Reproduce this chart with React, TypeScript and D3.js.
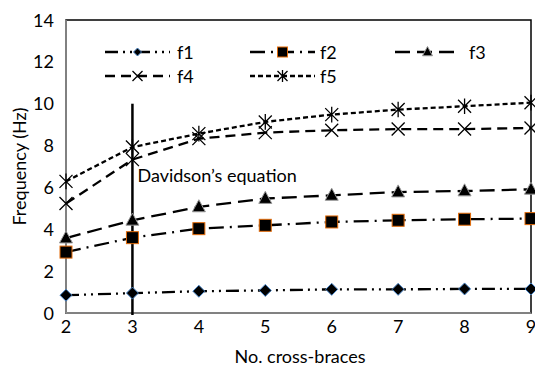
import React from "react";
import * as d3 from "d3";

const braces = [2, 3, 4, 5, 6, 7, 8, 9];
const f1 = [0.85, 0.95, 1.04, 1.08, 1.13, 1.13, 1.15, 1.15];
const f2 = [2.91, 3.6, 4.03, 4.19, 4.35, 4.43, 4.48, 4.51];
const f3 = [3.58, 4.43, 5.07, 5.47, 5.62, 5.78, 5.83, 5.91];
const f4 = [5.23, 7.33, 8.33, 8.62, 8.73, 8.79, 8.79, 8.84];
const f5 = [6.29, 7.93, 8.57, 9.13, 9.48, 9.72, 9.88, 10.05];
const yTicks = [0, 2, 4, 6, 8, 10, 12, 14];
const seriesNames = ["f1", "f2", "f3", "f4", "f5"];
const davidsonX = 3;
const davidsonTop = 10;
const davidsonLabel = "Davidson\u2019s equation";

const W = 535;
const H = 369;
const M = { left: 66, right: 531, top: 20, bottom: 313 };
const FONT = "Lato, 'Open Sans', sans-serif";
const FS = 18;

const styles = [
  { data: f1, dash: "13,5,2,5,2,5", marker: "diamond" },
  { data: f2, dash: "15,6,2,6", marker: "square" },
  { data: f3, dash: "15,7", marker: "triangle" },
  { data: f4, dash: "10,6", marker: "x" },
  { data: f5, dash: "5,3", marker: "asterisk" },
];

function Marker({ type, x, y, s }: { type: string; x: number; y: number; s: number }) {
  if (type === "diamond") {
    return (
      <path
        d={`M${x},${y - s}L${x + s},${y}L${x},${y + s}L${x - s},${y}Z`}
        fill="#000"
        stroke="#4a86c8"
        strokeWidth={1}
      />
    );
  }
  if (type === "square") {
    return (
      <rect x={x - s} y={y - s} width={2 * s} height={2 * s} fill="#000" stroke="#e46c0a" strokeWidth={1} />
    );
  }
  if (type === "triangle") {
    return (
      <path
        d={`M${x},${y - s * 1.1}L${x + s},${y + s * 0.75}L${x - s},${y + s * 0.75}Z`}
        fill="#000"
        stroke="#999"
        strokeWidth={1}
      />
    );
  }
  if (type === "x") {
    return (
      <path d={`M${x - s},${y - s}L${x + s},${y + s}M${x - s},${y + s}L${x + s},${y - s}`} stroke="#000" strokeWidth={1.3} />
    );
  }
  return (
    <path
      d={`M${x - s},${y - s}L${x + s},${y + s}M${x - s},${y + s}L${x + s},${y - s}M${x},${y - s * 1.2}L${x},${y + s * 1.2}`}
      stroke="#000"
      strokeWidth={1.3}
    />
  );
}

export default function App() {
  const x = d3.scaleLinear().domain([2, 9]).range([M.left, M.right]);
  const y = d3.scaleLinear().domain([0, 14]).range([M.bottom, M.top]);
  const markerSize: Record<string, number> = { diamond: 6, square: 6, triangle: 6.5, x: 6.5, asterisk: 6.5 };

  const legendPos = [
    { lx: 105, ly: 52, tx: 177 },
    { lx: 250, ly: 52, tx: 320 },
    { lx: 395, ly: 52, tx: 469 },
    { lx: 105, ly: 76, tx: 177 },
    { lx: 250, ly: 76, tx: 320 },
  ];

  return (
    <svg width={W} height={H} style={{ position: "absolute", left: 0, top: 0 }} fontFamily={FONT}>
      <rect x={0} y={0} width={W} height={H} fill="#fff" />
      <rect x={M.left} y={M.top} width={M.right - M.left} height={M.bottom - M.top} fill="none" stroke="#000" strokeWidth={1.5} />
      <line x1={M.left} x2={M.left} y1={M.top} y2={M.bottom} stroke="#999" strokeWidth={1.5} />
      <line x1={M.left} x2={M.right} y1={M.bottom} y2={M.bottom} stroke="#999" strokeWidth={1.5} />

      {yTicks.map((t) => (
        <text key={t} x={54} y={y(t) + 6.5} fontSize={FS} textAnchor="end" fill="#000">
          {t}
        </text>
      ))}
      {braces.map((b) => (
        <text key={b} x={x(b)} y={333} fontSize={FS} textAnchor="middle" fill="#000">
          {b}
        </text>
      ))}
      <text x={300} y={363} fontSize={FS} textAnchor="middle">
        No. cross-braces
      </text>
      <text transform={`translate(26,${(M.top + M.bottom) / 2}) rotate(-90)`} fontSize={FS} textAnchor="middle">
        Frequency (Hz)
      </text>

      <line x1={x(davidsonX)} x2={x(davidsonX)} y1={y(davidsonTop)} y2={M.bottom + 2} stroke="#000" strokeWidth={2.5} />
      <text x={x(davidsonX) + 5} y={182} fontSize={FS}>
        {davidsonLabel}
      </text>

      {styles.map((s, i) => {
        const line = d3
          .line<number>()
          .x((_, j) => x(braces[j]))
          .y((v) => y(v));
        return (
          <g key={i}>
            <path d={line(s.data) || ""} fill="none" stroke="#000" strokeWidth={2.3} strokeDasharray={s.dash} />
            {s.data.map((v, j) => (
              <Marker key={j} type={s.marker} x={x(braces[j])} y={y(v)} s={markerSize[s.marker]} />
            ))}
          </g>
        );
      })}

      {styles.map((s, i) => {
        const p = legendPos[i];
        return (
          <g key={i}>
            <line x1={p.lx} x2={p.lx + 65} y1={p.ly} y2={p.ly} stroke="#000" strokeWidth={2.3} strokeDasharray={s.dash} />
            <Marker type={s.marker} x={p.lx + 32.5} y={p.ly} s={s.marker === "diamond" ? 4 : 5} />
            <text x={p.tx} y={p.ly + 6.5} fontSize={FS}>
              {seriesNames[i]}
            </text>
          </g>
        );
      })}
    </svg>
  );
}
